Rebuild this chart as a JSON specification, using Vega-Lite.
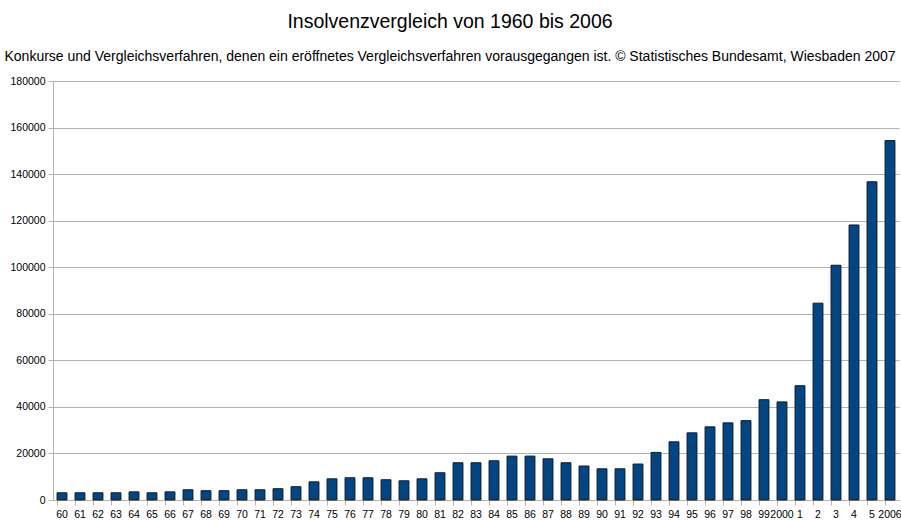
{
  "$schema": "https://vega.github.io/schema/vega-lite/v6.json",
  "autosize": {"type": "none"},
  "width": 846,
  "height": 419,
  "padding": {"left": 53, "top": 81, "right": 2, "bottom": 20},
  "background": "white",
  "title": {
    "text": "Insolvenzvergleich von 1960 bis 2006",
    "subtitle": "Konkurse und Vergleichsverfahren, denen ein eröffnetes Vergleichsverfahren vorausgegangen ist. © Statistisches Bundesamt, Wiesbaden 2007",
    "anchor": "middle",
    "dx": -26,
    "font": "Liberation Sans",
    "fontSize": 19.5,
    "fontWeight": "normal",
    "color": "#000000",
    "subtitleFont": "Liberation Sans",
    "subtitleFontSize": 14,
    "subtitleColor": "#000000",
    "subtitlePadding": 18,
    "offset": 11
  },
  "data": {
    "values": [
      {"year": 1960, "value": 3100},
      {"year": 1961, "value": 3100},
      {"year": 1962, "value": 3100},
      {"year": 1963, "value": 3100},
      {"year": 1964, "value": 3500},
      {"year": 1965, "value": 3100},
      {"year": 1966, "value": 3500},
      {"year": 1967, "value": 4400},
      {"year": 1968, "value": 4000},
      {"year": 1969, "value": 4000},
      {"year": 1970, "value": 4400},
      {"year": 1971, "value": 4400},
      {"year": 1972, "value": 4850},
      {"year": 1973, "value": 5700},
      {"year": 1974, "value": 7800},
      {"year": 1975, "value": 9100},
      {"year": 1976, "value": 9550},
      {"year": 1977, "value": 9550},
      {"year": 1978, "value": 8700},
      {"year": 1979, "value": 8250},
      {"year": 1980, "value": 9100},
      {"year": 1981, "value": 11700},
      {"year": 1982, "value": 16000},
      {"year": 1983, "value": 16000},
      {"year": 1984, "value": 16850},
      {"year": 1985, "value": 18850},
      {"year": 1986, "value": 18850},
      {"year": 1987, "value": 17700},
      {"year": 1988, "value": 16000},
      {"year": 1989, "value": 14600},
      {"year": 1990, "value": 13400},
      {"year": 1991, "value": 13400},
      {"year": 1992, "value": 15450},
      {"year": 1993, "value": 20450},
      {"year": 1994, "value": 25000},
      {"year": 1995, "value": 28850},
      {"year": 1996, "value": 31430},
      {"year": 1997, "value": 33140},
      {"year": 1998, "value": 34100},
      {"year": 1999, "value": 43100},
      {"year": 2000, "value": 42150},
      {"year": 2001, "value": 49100},
      {"year": 2002, "value": 84550},
      {"year": 2003, "value": 100850},
      {"year": 2004, "value": 118150},
      {"year": 2005, "value": 136700},
      {"year": 2006, "value": 154400}
    ]
  },
  "mark": {"type": "bar", "color": "#004586", "stroke": "#1a1a1a", "strokeWidth": 1},
  "encoding": {
    "x": {
      "field": "year",
      "type": "ordinal",
      "scale": {"paddingInner": 0.45, "paddingOuter": 0.225},
      "axis": {
        "title": null,
        "labelAngle": 0,
        "labelExpr": "datum.value == 2000 || datum.value == 2006 ? '' + datum.value : datum.value > 2000 ? '' + (datum.value - 2000) : '' + (datum.value - 1900)",
        "labelFont": "Liberation Sans",
        "labelFontSize": 10.5,
        "labelColor": "#000000",
        "labelPadding": 4,
        "bandPosition": 0,
        "tickColor": "#b3b3b3",
        "tickSize": 5,
        "domainColor": "#b3b3b3",
        "labelOverlap": false,
        "grid": false
      }
    },
    "y": {
      "field": "value",
      "type": "quantitative",
      "scale": {"domain": [0, 180000], "nice": false},
      "axis": {
        "title": null,
        "values": [0, 20000, 40000, 60000, 80000, 100000, 120000, 140000, 160000, 180000],
        "format": "d",
        "labelFont": "Liberation Sans",
        "labelFontSize": 10.5,
        "labelColor": "#000000",
        "labelPadding": 3,
        "tickColor": "#b3b3b3",
        "tickSize": 5,
        "domainColor": "#b3b3b3",
        "gridColor": "#b3b3b3",
        "gridWidth": 1
      }
    }
  },
  "config": {"view": {"stroke": null}}
}
